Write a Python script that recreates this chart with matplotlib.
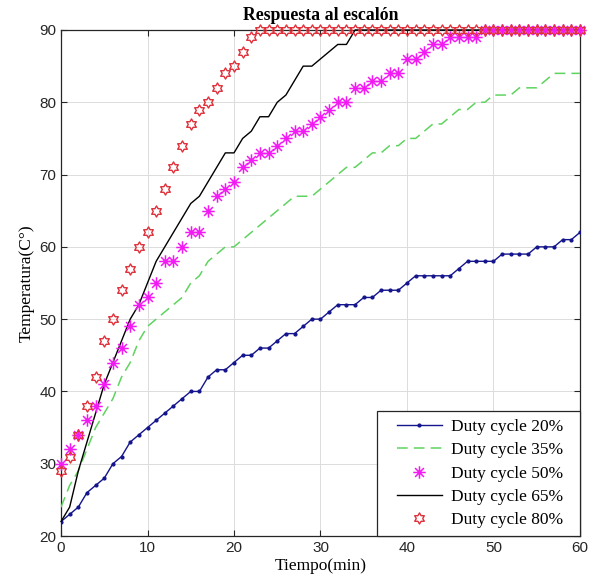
import numpy as np
import matplotlib
matplotlib.use("Agg")
import matplotlib.pyplot as plt
from matplotlib.patches import Rectangle
from matplotlib.path import Path

# Time axis (minutes) and measured temperatures for each duty cycle
tiempo = list(range(0, 61))

duty_20 = [22, 23, 24, 26, 27, 28, 30, 31, 33, 34, 35, 36, 37, 38, 39, 40,
           40, 42, 43, 43, 44, 45, 45, 46, 46, 47, 48, 48, 49, 50, 50, 51,
           52, 52, 52, 53, 53, 54, 54, 54, 55, 56, 56, 56, 56, 56, 57, 58,
           58, 58, 58, 59, 59, 59, 59, 60, 60, 60, 61, 61, 62]

duty_35 = [24, 27, 29, 32, 35, 37, 39, 42, 44, 47, 49, 50, 51, 52, 53, 55,
           56, 58, 59, 60, 60, 61, 62, 63, 64, 65, 66, 67, 67, 67, 68, 69,
           70, 71, 71, 72, 73, 73, 74, 74, 75, 75, 76, 77, 77, 78, 79, 79,
           80, 80, 81, 81, 81, 82, 82, 82, 83, 84, 84, 84, 84]

duty_50 = [30, 32, 34, 36, 38, 41, 44, 46, 49, 52, 53, 55, 58, 58, 60, 62,
           62, 65, 67, 68, 69, 71, 72, 73, 73, 74, 75, 76, 76, 77, 78, 79,
           80, 80, 82, 82, 83, 83, 84, 84, 86, 86, 87, 88, 88, 89, 89, 89,
           89, 90, 90, 90, 90, 90, 90, 90, 90, 90, 90, 90, 90]

duty_65 = [22, 24, 29, 33, 37, 41, 44, 47, 50, 52, 55, 58, 60, 62, 64, 66,
           67, 69, 71, 73, 73, 75, 76, 78, 78, 80, 81, 83, 85, 85, 86, 87,
           88, 88, 90, 90, 90, 90, 90, 90, 90, 90, 90, 90, 90, 90, 90, 90,
           90, 90, 90, 90, 90, 90, 90, 90, 90, 90, 90, 90, 90]

duty_80 = [29, 31, 34, 38, 42, 47, 50, 54, 57, 60, 62, 65, 68, 71, 74, 77,
           79, 80, 82, 84, 85, 87, 89, 90, 90, 90, 90, 90, 90, 90, 90, 90,
           90, 90, 90, 90, 90, 90, 90, 90, 90, 90, 90, 90, 90, 90, 90, 90,
           90, 90, 90, 90, 90, 90, 90, 90, 90, 90, 90, 90, 90]

etiquetas = ["Duty cycle 20%", "Duty cycle 35%", "Duty cycle 50%",
             "Duty cycle 65%", "Duty cycle 80%"]

serif = ["Liberation Serif", "DejaVu Serif"]
sans = ["Liberation Sans", "DejaVu Sans"]

fig = plt.figure(figsize=(5.90, 5.88), dpi=100)
ax = fig.add_axes([0.1034, 0.0884, 0.8796, 0.8606])

# six-pointed star (hexagram) outline
ang_out = np.deg2rad(90 + np.arange(6) * 60)
ang_in = ang_out + np.deg2rad(30)
r_in = 1 / np.sqrt(3)
verts = []
for ao, ai in zip(ang_out, ang_in):
    verts.append((np.cos(ao), np.sin(ao)))
    verts.append((r_in * np.cos(ai), r_in * np.sin(ai)))
verts.append(verts[0])
hexagram = Path(verts, closed=True)

# asterisk: plus sign overlaid with a cross
ast_verts, ast_codes = [], []
for a in np.deg2rad(np.arange(0, 180, 45)):
    ast_verts += [(np.cos(a), np.sin(a)), (-np.cos(a), -np.sin(a))]
    ast_codes += [Path.MOVETO, Path.LINETO]
asterisk = Path(ast_verts, ast_codes)

ax.plot(tiempo, duty_20, color="#14148c", lw=1.0, marker=".", ms=4,
        label=etiquetas[0], zorder=3)
ax.plot(tiempo, duty_35, color="#5fd35f", lw=1.1, ls=(0, (7, 4)),
        label=etiquetas[1], zorder=3)
ax.plot(tiempo, duty_50, ls="none", marker=asterisk, ms=9, color="#ff1aff",
        mec="#f21af2", mew=1.1, label=etiquetas[2], zorder=4, clip_on=False)
ax.plot(tiempo, duty_65, color="black", lw=1.0, label=etiquetas[3],
        zorder=3, clip_on=False)
ax.plot(tiempo, duty_80, ls="none", marker=hexagram, ms=8, mfc="none",
        mec="#e0303a", mew=1.0, label=etiquetas[4], zorder=5, clip_on=False)

ax.set_xlim(0, 60)
ax.set_ylim(20, 90)
ax.set_xticks(range(0, 61, 10))
ax.set_yticks(range(20, 91, 10))
ax.grid(True, color="#dcdcdc", lw=0.7)
ax.set_axisbelow(True)
ax.tick_params(direction="in", top=True, right=True, length=4, width=0.8,
               colors="#262626", labelsize=11, labelcolor="#262626")
for lab in ax.get_xticklabels() + ax.get_yticklabels():
    lab.set_family(sans)
for sp in ax.spines.values():
    sp.set_linewidth(0.9)
    sp.set_color("#262626")

ax.set_title("Respuesta al escalón", family=serif, fontweight="bold",
             fontsize=12.8, pad=7)
ax.set_xlabel("Tiempo(min)", family=serif, fontsize=12.5, labelpad=2)
ax.set_ylabel("Temperatura(C°)", family=serif, fontsize=12.5, labelpad=3)

# legend box flush with the lower-right corner of the axes
caja = Rectangle((0.609, 0.0), 0.391, 0.247, transform=ax.transAxes,
                 facecolor="white", edgecolor="#262626", lw=0.9,
                 zorder=9, clip_on=False)
ax.add_patch(caja)
leg = ax.legend(loc="center", bbox_to_anchor=(0.807, 0.1235),
                frameon=False, prop={"family": serif, "size": 12.5},
                handlelength=2.6, handletextpad=0.5, labelspacing=0.42,
                borderpad=0.0)
leg.set_zorder(10)

fig.savefig("out.png", dpi=100)
